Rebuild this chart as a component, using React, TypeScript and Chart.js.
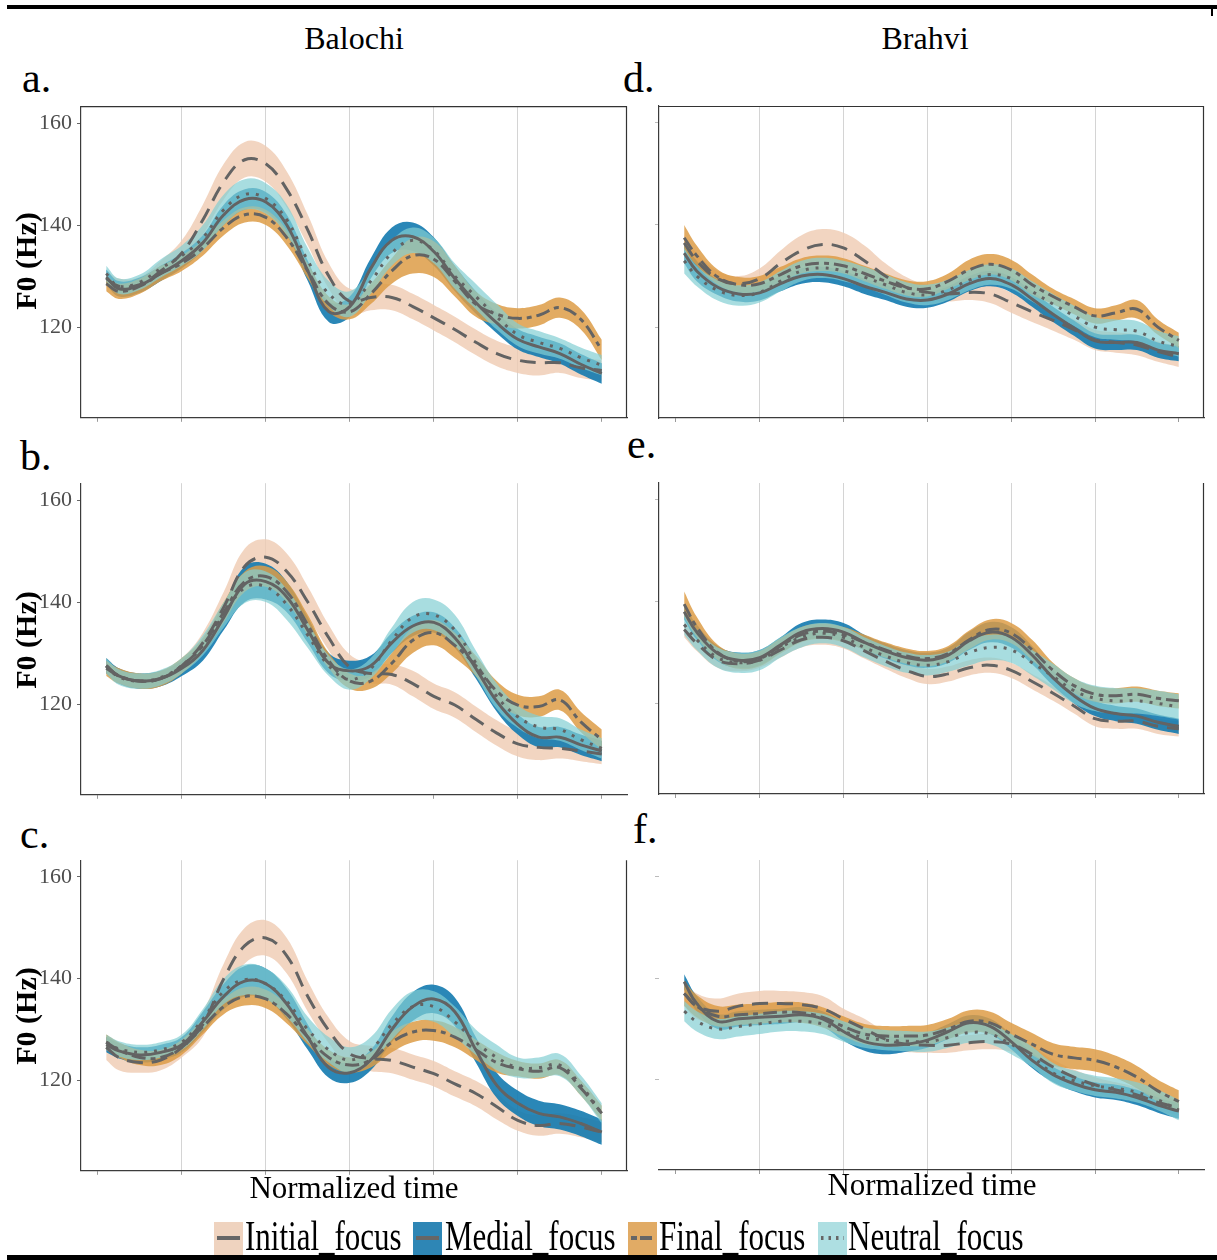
import React, { useEffect, useRef } from "react";
import { Chart, registerables } from "chart.js";

Chart.register(...registerables);

const SERIF = "'Liberation Serif', 'Times New Roman', Times, serif";

// ---------- data ----------
const TIME = [0.1, 0.25, 0.5, 0.75, 1, 1.25, 1.5, 1.75, 2, 2.25, 2.5, 2.75, 3, 3.25, 3.5, 3.75, 4, 4.25, 4.5, 4.75, 5, 5.25, 5.5, 5.75, 6];
const X_TICKS = [0, 1, 2, 3, 4, 5, 6];
const Y_TICKS = [120, 140, 160];
const SERIES_NAMES = ["Initial_focus", "Medial_focus", "Final_focus", "Neutral_focus"];

// Panel a (Balochi)
const A_INI = [129.5, 128, 128.3, 131, 134.5, 141, 148.5, 152.8, 152, 147, 139, 130, 125, 125.8, 125.8, 124, 121.8, 119.5, 117, 114.8, 113.5, 113, 113, 112, 111.5];
const A_INI_CI = [1.5, 1.5, 1.5, 2, 2.5, 3, 3.5, 3.5, 3.5, 3.5, 3, 2.5, 2.5, 2.5, 2.5, 2.5, 2.5, 2.5, 2.5, 2.5, 2.5, 2.5, 2, 2, 2];
const A_MED = [129.8, 127.5, 128.2, 130.5, 133, 136.5, 142, 145, 144.5, 140, 131, 123, 124, 131.5, 137, 137.7, 134.8, 129.5, 124.8, 120.8, 117.6, 116.1, 114.8, 112.7, 110.9];
const A_MED_CI = [1.5, 1.5, 1.5, 1.5, 1.5, 1.5, 2, 2, 2, 2, 2, 2, 2, 2, 2.5, 2.8, 2.8, 2.5, 2.2, 2, 2, 2, 2, 2, 2];
const A_FIN = [128.5, 127, 128, 130.5, 132.5, 135.5, 139.5, 142, 141.5, 137.5, 131, 124.5, 123, 126.5, 131, 134, 133.3, 129, 124.5, 122.5, 121.7, 122.3, 123.8, 121.5, 115.5];
const A_FIN_CI = [1.5, 1.5, 1.5, 1.5, 1.5, 1.5, 1.5, 1.5, 1.5, 1.5, 1.5, 1.5, 1.5, 2, 2.5, 3.5, 3.5, 3, 2.5, 2, 2, 2, 2, 2, 2];
const A_NEU = [130.5, 128, 128.8, 131.5, 134, 137.5, 143, 146, 145.2, 141, 133, 126.5, 124.5, 129, 134.5, 137, 135, 130, 126, 122, 118.5, 117, 115.8, 114, 112.5];
const A_NEU_CI = [1.5, 1.5, 1.5, 1.8, 2, 2.5, 3, 3, 3, 3, 2.5, 2.5, 2.5, 2.5, 2.5, 2.5, 2.5, 2.5, 2.5, 2.5, 2.2, 2.2, 2, 2, 2];

// Panel b (Balochi)
const B_INI = [127.5, 125.5, 124.5, 125, 127.5, 132, 139, 147, 148.8, 146, 140, 133, 127.2, 126, 125.8, 124, 121.5, 119.8, 117, 114.3, 112.2, 111.5, 111.3, 110.8, 110.2];
const B_INI_CI = [1.5, 1.5, 1.5, 1.5, 1.5, 2, 3, 3.5, 3.5, 3.5, 3, 2.5, 2.5, 2, 2, 2.5, 2.5, 2.5, 2.5, 2.5, 2.5, 2.5, 2, 2, 2];
const B_MED = [127.5, 125.5, 124.5, 125, 127, 130.5, 137, 143.5, 144, 141, 134.5, 128, 126.5, 127.5, 132, 135.3, 136, 133, 127, 120.5, 116, 113.5, 113.5, 112, 110.8];
const B_MED_CI = [1.5, 1.5, 1.5, 1.5, 1.5, 2, 2.5, 3.5, 3.5, 3, 2.5, 2, 2, 2, 2, 2, 2, 2, 2, 2, 2, 2, 2, 2, 2];
const B_FIN = [127, 125.5, 124.5, 125, 127.5, 131.5, 138, 144, 145, 142, 135.5, 128.5, 124.5, 124.5, 128, 132.5, 134, 131.5, 127.5, 122.5, 119.8, 119.5, 120.8, 116.5, 113];
const B_FIN_CI = [1.5, 1.5, 1.5, 1.5, 1.5, 1.5, 2, 2, 2, 2, 2, 1.5, 1.5, 1.5, 2, 2.5, 2.5, 2.5, 2, 2, 2, 2, 2, 2, 2];
const B_NEU = [127.5, 125.3, 124.5, 125.2, 127.5, 131.5, 137.5, 142.8, 143, 139.5, 133.5, 127.5, 124.8, 127, 132.5, 137, 137.5, 134.5, 128, 121.5, 117.5, 115.5, 115, 113, 111.3];
const B_NEU_CI = [1.5, 1.5, 1.5, 1.5, 1.5, 2, 2.5, 3, 3, 3, 2.5, 2, 2, 2, 2.5, 3, 3, 3, 2.5, 2.5, 2.2, 2.2, 2.2, 2, 2];

// Panel c (Balochi)
const C_INI = [126.5, 124.5, 123.5, 124, 126.5, 131, 140, 146.5, 148, 144.5, 136.5, 129.8, 125.2, 124.3, 123.9, 122.6, 121.3, 119.3, 117.4, 114.8, 112.1, 111.1, 111.5, 110.8, 109.8];
const C_INI_CI = [2.5, 2.5, 2, 2, 2, 2.5, 3, 3.5, 3.5, 3.5, 3, 2.5, 2.5, 2.5, 2.5, 2.5, 2.5, 2.5, 2.5, 2.5, 2, 2, 2, 2, 2];
const C_MED = [127, 125.8, 125, 125.5, 127, 131.5, 136.5, 139.5, 139, 135, 128.5, 122.5, 121.5, 124, 130, 134.5, 136, 133.5, 126, 119, 115.5, 113.5, 112.8, 111.5, 109.8];
const C_MED_CI = [1.5, 1.5, 1.5, 1.5, 1.5, 2, 2.5, 3, 3, 3, 2.5, 2, 2, 2, 2.5, 2.8, 2.8, 2.8, 2.5, 2.5, 2.5, 2.5, 2.5, 2.5, 2.5];
const C_FIN = [127.5, 126, 124.5, 124.5, 126.5, 130.5, 134.5, 136.5, 136, 133, 128.5, 124.5, 123, 124, 127.5, 129.5, 129.8, 128.5, 126, 123.5, 122.3, 121.8, 122.5, 118.5, 113.5];
const C_FIN_CI = [1.5, 1.5, 1.5, 1.5, 1.5, 1.5, 1.5, 1.8, 1.8, 1.8, 1.5, 1.5, 1.5, 1.5, 2, 2, 2, 2, 2, 2, 1.5, 1.5, 1.5, 1.5, 1.5];
const C_NEU = [127.5, 126.2, 125.5, 126, 127.5, 132, 137.5, 139.8, 139, 135.5, 130, 126, 124, 126, 131, 134.5, 134.5, 131.5, 127.5, 124.5, 122.5, 122.5, 123, 119, 113.5];
const C_NEU_CI = [1.5, 1.5, 1.5, 1.5, 1.5, 2, 2.5, 3, 3, 3, 2.5, 2.5, 2.5, 2.5, 3, 3, 3, 3, 2.5, 2.5, 2, 2, 2.2, 2, 2];

// Panel d (Brahvi)
const D_INI = [136.5, 133, 129.5, 128.5, 129.5, 132.5, 135, 136.2, 135.5, 133, 130, 127.8, 126.8, 126.5, 126.8, 126.5, 124.8, 123, 121.3, 119.5, 117.5, 117, 116.5, 115.2, 114.2];
const D_INI_CI = [1.5, 1.5, 1.5, 1.5, 2, 2.5, 3, 3, 3, 3, 2.5, 2, 1.5, 1.5, 1.5, 1.8, 2, 2, 2, 2, 2, 2, 2, 2, 2];
const D_MED = [134.5, 131, 127.8, 126.5, 126.7, 128.5, 130, 130.3, 129.5, 128, 126.8, 125.5, 125.3, 126.5, 128.5, 129.5, 128.3, 125.5, 122.5, 119.8, 117.3, 117, 117, 115.5, 114.8];
const D_MED_CI = [2, 2, 1.5, 1.5, 1.5, 1.5, 1.5, 1.5, 1.5, 1.5, 1.5, 1.5, 1.5, 1.5, 1.5, 1.5, 1.5, 1.5, 1.5, 1.5, 1.5, 1.5, 1.5, 1.5, 1.5];
const D_FIN = [137.5, 134, 129.8, 128.3, 128.5, 130.3, 132, 132.5, 132, 130.5, 129, 127.7, 127.5, 129, 131.2, 132.3, 131.2, 128.3, 126, 124, 122.2, 122.8, 123.5, 120, 117.4];
const D_FIN_CI = [2.5, 2, 1.5, 1.5, 1.5, 1.5, 1.5, 1.5, 1.5, 1.5, 1.5, 1.5, 1.5, 1.5, 2, 2, 2, 2, 1.5, 1.5, 1.5, 1.5, 1.8, 1.5, 1.5];
const D_NEU = [133, 130, 127.2, 126.2, 126.8, 129, 131, 131.6, 131, 129.8, 128.3, 126.8, 126.3, 127.3, 129.2, 130.3, 129.5, 127, 124.5, 122.2, 120, 119.5, 119.2, 117.3, 116.2];
const D_NEU_CI = [2.5, 2, 2, 2, 2, 2, 2, 2, 2, 2, 2, 2, 2, 2, 2, 2, 2, 2, 2, 2, 2, 2, 2, 2, 2];

// Panel e (Brahvi)
const E_INI = [134.5, 131.8, 128.5, 127.8, 128.5, 130.5, 132.5, 133, 132.3, 130.3, 128.3, 126.5, 125.3, 125.8, 127, 127.5, 126.5, 124.3, 122, 119.5, 117, 116.5, 116.5, 115.5, 115];
const E_INI_CI = [1.5, 1.5, 1.5, 1.5, 1.5, 1.5, 1.5, 1.5, 1.5, 1.5, 1.5, 1.5, 1.5, 1.5, 1.5, 1.5, 1.5, 1.5, 1.5, 1.5, 1.5, 1.5, 1.5, 1.5, 1.5];
const E_MED = [138, 134, 129.8, 128.5, 129, 131.5, 134, 134.7, 134, 132, 130.3, 129, 128.5, 129.5, 132.3, 134, 133, 129.5, 125, 121.5, 119, 118, 117.5, 116.3, 115.5];
const E_MED_CI = [1.5, 1.5, 1.5, 1.5, 1.5, 1.5, 1.8, 1.8, 1.8, 1.5, 1.5, 1.5, 1.5, 1.5, 1.8, 2, 2, 1.8, 1.5, 1.5, 1.5, 1.5, 1.5, 1.5, 1.5];
const E_FIN = [139.5, 135, 130, 128.3, 128.8, 131.3, 133.5, 134.2, 133.5, 132, 130.5, 129.3, 128.8, 129.8, 132.5, 134.5, 133.8, 130.5, 126.5, 123.5, 121.8, 121.5, 121.8, 121, 120.5];
const E_FIN_CI = [2.5, 2, 1.5, 1.5, 1.5, 1.5, 1.5, 1.5, 1.5, 1.5, 1.5, 1.5, 1.5, 1.5, 1.8, 2, 2, 2, 1.5, 1.5, 1.5, 1.5, 1.5, 1.5, 1.5];
const E_NEU = [135.5, 132.5, 129, 128, 128.5, 131, 133, 133.8, 133, 131, 129.3, 128, 127.5, 128.2, 130, 131, 130.5, 128, 125.3, 122.5, 121, 120.5, 120.5, 120, 119.3];
const E_NEU_CI = [2, 2, 2, 2, 2, 2, 2, 2, 2, 2, 2, 2, 2, 2, 2.5, 2.5, 2.5, 2.5, 2.5, 2.5, 2.5, 2.5, 2.5, 2.5, 2.5];

// Panel f (Brahvi)
const F_INI = [137, 134.5, 133.5, 134.5, 135, 135, 134.8, 134, 132, 130, 128, 127, 126.8, 126.8, 127.3, 127.5, 127, 125, 122.5, 120.5, 119, 118, 117, 115.5, 114.5];
const F_INI_CI = [2.5, 2.5, 2.5, 2.5, 2.5, 2.5, 2.5, 2.5, 2, 2, 1.5, 1.5, 1.5, 1.5, 1.5, 1.5, 1.5, 1.5, 1.5, 1.5, 1.5, 1.5, 1.5, 1.5, 1.5];
const F_MED = [139.3, 135, 131.5, 132, 132.3, 132.5, 132.8, 132, 129.5, 127.5, 126.8, 127, 127.8, 129.5, 131.2, 130.5, 127.5, 123.8, 121, 119.2, 118, 117.5, 116.5, 115, 113.8];
const F_MED_CI = [1.5, 1.5, 1.5, 1.5, 1.5, 1.5, 1.5, 1.5, 1.8, 1.8, 1.8, 1.5, 1.5, 1.5, 1.5, 1.5, 1.5, 1.5, 1.5, 1.5, 1.5, 1.5, 1.5, 1.5, 1.5];
const F_FIN = [137, 134.5, 132.5, 132.8, 133, 133.3, 133.2, 132.3, 130.5, 129, 128.6, 128.6, 128.8, 130, 131.5, 131.2, 129, 127, 125, 124.3, 123.8, 122.5, 120.5, 117.8, 115.7];
const F_FIN_CI = [2.5, 2.2, 2, 2, 2, 2, 2, 2, 2, 2, 2, 2, 2, 2, 2.2, 2.2, 2.2, 2.2, 2.2, 2.2, 2.2, 2.2, 2.2, 2.2, 2.2];
const F_NEU = [133.5, 131.5, 130, 130.5, 131, 131.5, 131.5, 131, 129.5, 128.3, 127.8, 127.6, 127.5, 128.3, 129.3, 129, 127, 124.5, 121.3, 119.8, 118.8, 118.3, 117.5, 116, 114];
const F_NEU_CI = [2, 2, 2, 2, 2, 2, 2, 2, 2, 2, 2, 2, 2, 2, 2, 2, 2, 2, 2, 2, 2, 2, 2, 2, 2];

// ---------- styles ----------
const SERIES_STYLE = [
  { fill: "rgba(239,203,178,0.8)", key: "#EFD3BF", dash: [16, 9], order: 4, keyDash: "" },
  { fill: "rgba(19,122,175,0.9)", key: "#2E86B5", dash: [] as number[], order: 3, keyDash: "" },
  { fill: "rgba(221,156,71,0.85)", key: "#E1AB65", dash: [14, 5, 5, 5], order: 2, keyDash: "6 3 12 3" },
  { fill: "rgba(131,206,211,0.7)", key: "#AEDFE2", dash: [3, 7], order: 1, keyDash: "2.5 5" },
];
const LINE_COLOR = "#636363";

type Series = [number[], number[]][];
type PanelCfg = {
  key: string;
  left: number; top: number; right: number; bottom: number;
  yLabels: boolean; frameTop: boolean; frameRight: boolean; yBorder: boolean;
  grids: number[];
  series: Series;
};

const PANELS: PanelCfg[] = [
  { key: "a", left: 81, top: 106, right: 627, bottom: 418, yLabels: true, frameTop: true, frameRight: true, yBorder: true, grids: [1, 2, 3, 4, 5],
    series: [[A_INI, A_INI_CI], [A_MED, A_MED_CI], [A_FIN, A_FIN_CI], [A_NEU, A_NEU_CI]] },
  { key: "b", left: 81, top: 483, right: 627, bottom: 795, yLabels: true, frameTop: false, frameRight: false, yBorder: true, grids: [1, 2, 3, 5],
    series: [[B_INI, B_INI_CI], [B_MED, B_MED_CI], [B_FIN, B_FIN_CI], [B_NEU, B_NEU_CI]] },
  { key: "c", left: 81, top: 860, right: 627, bottom: 1171, yLabels: true, frameTop: false, frameRight: true, yBorder: true, grids: [1, 2, 3, 4, 5],
    series: [[C_INI, C_INI_CI], [C_MED, C_MED_CI], [C_FIN, C_FIN_CI], [C_NEU, C_NEU_CI]] },
  { key: "d", left: 659, top: 106, right: 1204, bottom: 418, yLabels: false, frameTop: true, frameRight: true, yBorder: true, grids: [1, 2, 3, 4, 5],
    series: [[D_INI, D_INI_CI], [D_MED, D_MED_CI], [D_FIN, D_FIN_CI], [D_NEU, D_NEU_CI]] },
  { key: "e", left: 659, top: 483, right: 1204, bottom: 794, yLabels: false, frameTop: false, frameRight: true, yBorder: true, grids: [1, 2, 3, 4, 5],
    series: [[E_INI, E_INI_CI], [E_MED, E_MED_CI], [E_FIN, E_FIN_CI], [E_NEU, E_NEU_CI]] },
  { key: "f", left: 659, top: 860, right: 1204, bottom: 1170, yLabels: false, frameTop: false, frameRight: false, yBorder: false, grids: [1, 2, 3, 4, 5],
    series: [[F_INI, F_INI_CI], [F_MED, F_MED_CI], [F_FIN, F_FIN_CI], [F_NEU, F_NEU_CI]] },
];

const PAD_L = 70, PAD_R = 10, PAD_T = 10, PAD_B = 12;

const framePlugin = {
  id: "frame",
  afterDraw(chart: any, _args: any, opts: any) {
    const { ctx, chartArea } = chart;
    if (!chartArea) return;
    const { left, right, top, bottom } = chartArea;
    ctx.save();
    ctx.strokeStyle = opts.color || "#333";
    ctx.lineWidth = 1.2;
    ctx.beginPath();
    if (opts.top) { ctx.moveTo(left, top + 0.5); ctx.lineTo(right, top + 0.5); }
    if (opts.right) { ctx.moveTo(right - 0.5, top); ctx.lineTo(right - 0.5, bottom); }
    ctx.stroke();
    ctx.restore();
  },
};

function makeConfig(cfg: PanelCfg): any {
  const datasets: any[] = [];
  cfg.series.forEach(([mean, ci], s) => {
    const st = SERIES_STYLE[s];
    datasets.push({
      label: SERIES_NAMES[s] + " lower",
      data: TIME.map((t, i) => ({ x: t, y: mean[i] - ci[i] })),
      borderColor: "rgba(0,0,0,0)", borderWidth: 0, pointRadius: 0,
      fill: false, tension: 0.4, order: st.order,
    });
    datasets.push({
      label: SERIES_NAMES[s] + " upper",
      data: TIME.map((t, i) => ({ x: t, y: mean[i] + ci[i] })),
      borderColor: "rgba(0,0,0,0)", borderWidth: 0, pointRadius: 0,
      backgroundColor: st.fill, fill: "-1", tension: 0.4, order: st.order,
    });
  });
  cfg.series.forEach(([mean], s) => {
    datasets.push({
      label: SERIES_NAMES[s],
      data: TIME.map((t, i) => ({ x: t, y: mean[i] })),
      borderColor: LINE_COLOR, borderWidth: 3, borderDash: SERIES_STYLE[s].dash,
      pointRadius: 0, fill: false, tension: 0.4, order: 0,
    });
  });

  return {
    type: "line",
    data: { datasets },
    plugins: [framePlugin],
    options: {
      animation: false,
      responsive: false,
      maintainAspectRatio: false,
      devicePixelRatio: 1,
      layout: { padding: { top: PAD_T, right: PAD_R, left: 0, bottom: 0 } },
      plugins: {
        legend: { display: false },
        tooltip: { enabled: false },
        frame: { top: cfg.frameTop, right: cfg.frameRight, color: "#333" },
      },
      scales: {
        x: {
          type: "linear",
          min: -0.2,
          max: 6.3,
          afterBuildTicks: (s: any) => { s.ticks = X_TICKS.map((v) => ({ value: v })); },
          afterFit: (s: any) => { s.height = PAD_B; },
          ticks: { display: false },
          grid: {
            color: (ctx: any) => (cfg.grids.includes(ctx.tick?.value) ? "#d4d4d4" : "rgba(0,0,0,0)"),
            lineWidth: 1,
            drawTicks: true,
            tickLength: 4,
            tickColor: "#9a9a9a",
          },
          border: { display: true, color: "#3c3c3c", width: 1.2 },
        },
        y: {
          type: "linear",
          min: 102.2,
          max: 163.3,
          afterBuildTicks: (s: any) => { s.ticks = Y_TICKS.map((v) => ({ value: v })); },
          afterFit: (s: any) => { s.width = PAD_L; },
          ticks: {
            display: cfg.yLabels,
            font: { family: SERIF, size: 22 },
            color: "#4d4d4d",
            padding: 5,
          },
          grid: { drawOnChartArea: false, drawTicks: true, tickLength: 4, tickColor: cfg.yLabels ? "#666" : "#bbb" },
          border: { display: cfg.yBorder, color: "#3c3c3c", width: 1.2 },
        },
      },
    },
  };
}

function Panel({ cfg }: { cfg: PanelCfg }) {
  const ref = useRef<HTMLCanvasElement | null>(null);
  const w0 = cfg.right - cfg.left + PAD_L + PAD_R;
  const h0 = cfg.bottom - cfg.top + PAD_T + PAD_B;

  useEffect(() => {
    const canvas = ref.current;
    if (!canvas) return;
    let chart = new Chart(canvas, makeConfig(cfg));
    const ca = chart.chartArea;
    const dw = Math.round((cfg.right - cfg.left) - (ca.right - ca.left));
    const dh = Math.round((cfg.bottom - cfg.top) - (ca.bottom - ca.top));
    if (dw !== 0 || dh !== 0) {
      chart.destroy();
      const nw = w0 + dw, nh = h0 + dh;
      canvas.width = nw;
      canvas.height = nh;
      canvas.style.width = `${nw}px`;
      canvas.style.height = `${nh}px`;
      chart = new Chart(canvas, makeConfig(cfg));
    }
    const ca2 = chart.chartArea;
    canvas.style.left = `${Math.round(cfg.left - ca2.left)}px`;
    canvas.style.top = `${Math.round(cfg.top - ca2.top)}px`;
    return () => chart.destroy();
  }, []);

  return (
    <canvas
      ref={ref}
      width={w0}
      height={h0}
      style={{ position: "absolute", left: cfg.left - PAD_L, top: cfg.top - PAD_T, width: w0, height: h0 }}
    />
  );
}

function Txt(p: { text: string; x: number; baseline: number; size: number; center?: boolean; scaleY?: number }) {
  const sy = p.scaleY ?? 1;
  return (
    <div
      style={{
        position: "absolute",
        left: p.x,
        top: p.baseline - 0.8375 * p.size * sy,
        fontFamily: SERIF,
        fontSize: p.size,
        lineHeight: `${p.size}px`,
        whiteSpace: "nowrap",
        color: "#000",
        transformOrigin: "left top",
        transform: `${p.center ? "translateX(-50%) " : ""}scaleY(${sy})`,
      }}
    >
      {p.text}
    </div>
  );
}

function YTitle({ cy }: { cy: number }) {
  return (
    <div
      style={{
        position: "absolute",
        left: 25.5,
        top: cy,
        transform: "translate(-50%, -50%) rotate(-90deg)",
        fontFamily: SERIF,
        fontSize: 30,
        fontWeight: "bold",
        lineHeight: "30px",
        whiteSpace: "nowrap",
        color: "#000",
      }}
    >
      F0 (Hz)
    </div>
  );
}

const LEGEND_POS = [
  { key: 214, text: 245 },
  { key: 413, text: 445 },
  { key: 628, text: 659 },
  { key: 818, text: 848 },
];

export default function App() {
  return (
    <div style={{ position: "absolute", left: 0, top: 0, width: 1217, height: 1260, background: "#fff", overflow: "hidden" }}>
      {/* top rule */}
      <div style={{ position: "absolute", left: 7, top: 5, width: 1210, height: 4, background: "#000" }} />
      <div style={{ position: "absolute", left: 1211, top: 5, width: 2, height: 11, background: "#000" }} />

      <Txt text="Balochi" x={354} baseline={49} size={32} center />
      <Txt text="Brahvi" x={925} baseline={49} size={32} center />

      <Txt text="a." x={22} baseline={92} size={42} />
      <Txt text="d." x={623} baseline={92} size={42} />
      <Txt text="b." x={20} baseline={470} size={42} />
      <Txt text="e." x={627} baseline={458} size={42} />
      <Txt text="c." x={20} baseline={848} size={42} />
      <Txt text="f." x={633} baseline={843} size={42} />

      {PANELS.map((p) => (
        <Panel key={p.key} cfg={p} />
      ))}

      <YTitle cy={261} />
      <YTitle cy={640} />
      <YTitle cy={1016} />

      <Txt text="Normalized time" x={354} baseline={1198} size={31} center />
      <Txt text="Normalized time" x={932} baseline={1195} size={31} center />

      {/* legend */}
      {SERIES_NAMES.map((name, i) => (
        <React.Fragment key={name}>
          <svg
            width={29}
            height={34}
            style={{ position: "absolute", left: LEGEND_POS[i].key, top: 1222 }}
          >
            <rect x={0} y={0} width={29} height={34} fill={SERIES_STYLE[i].key} />
            <line
              x1={3}
              y1={16}
              x2={26}
              y2={16}
              stroke="#666"
              strokeWidth={4}
              strokeDasharray={SERIES_STYLE[i].keyDash || undefined}
            />
          </svg>
          <Txt text={name} x={LEGEND_POS[i].text} baseline={1250} size={31} scaleY={1.33} />
        </React.Fragment>
      ))}

      {/* bottom rule */}
      <div style={{ position: "absolute", left: 7, top: 1255, width: 1210, height: 5, background: "#000", zIndex: 2 }} />
    </div>
  );
}
